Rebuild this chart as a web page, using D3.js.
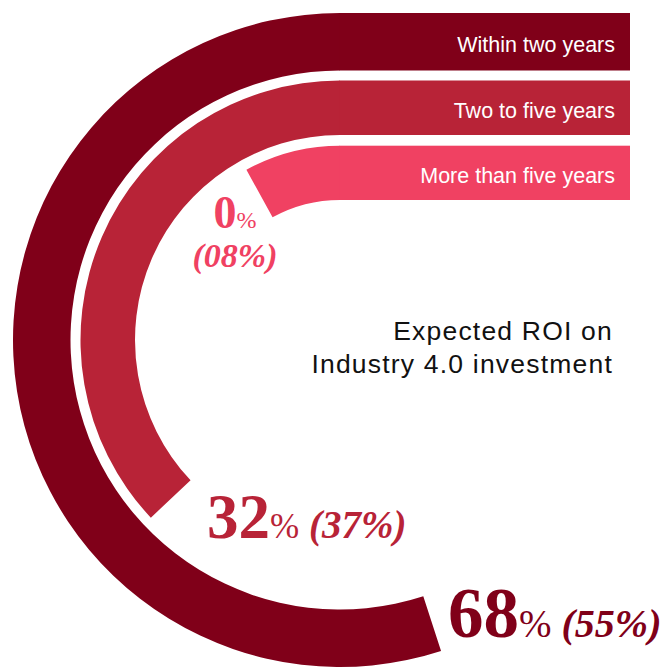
<!DOCTYPE html>
<html>
<head>
<meta charset="utf-8">
<script src="https://cdn.jsdelivr.net/npm/d3@7"></script>
<style>
  html, body { margin: 0; padding: 0; background: #ffffff; }
  svg { display: block; }
</style>
</head>
<body>
<svg id="chart" width="665" height="668"></svg>
<script>
// ---- data ----
const categories = ["Within two years", "Two to five years", "More than five years"];
const currentValues = [68, 32, 0];   // bold figures
const previousValues = [55, 37, 8];  // figures in parentheses (drive the arc length)
const colors = ["#800019", "#b82337", "#f04162"];
const titleLines = ["Expected ROI on", "Industry 4.0 investment"];

// ---- layout ----
const W = 665, H = 668;
const cx = 340, cy = 340;
const barEnd = 630;
const rings = [
  { inner: 269.5, outer: 327 },
  { inner: 205,   outer: 259.5 },
  { inner: 140,   outer: 194.3 }
];

const svg = d3.select("#chart");
const angle = d3.scaleLinear().domain([0, 100]).range([0, 2 * Math.PI]);
const xBar = d3.scaleLinear().domain([0, 1]).range([cx - 0.5, barEnd]);

const data = categories.map((c, i) => ({
  cat: c, cur: currentValues[i], prev: previousValues[i],
  color: colors[i], inner: rings[i].inner, outer: rings[i].outer
}));

const arc = d3.arc()
  .innerRadius(d => d.inner)
  .outerRadius(d => d.outer)
  .startAngle(d => -angle(d.prev))
  .endAngle(0);

const g = svg.append("g").attr("transform", `translate(${cx},${cy})`);
g.selectAll("path.arc").data(data).join("path")
  .attr("class", "arc")
  .attr("d", arc)
  .attr("fill", d => d.color);

// horizontal bars
svg.selectAll("rect.bar").data(data).join("rect")
  .attr("class", "bar")
  .attr("x", xBar(0))
  .attr("width", xBar(1) - xBar(0))
  .attr("y", d => cy - d.outer)
  .attr("height", d => d.outer - d.inner)
  .attr("fill", d => d.color);

// bar labels
svg.selectAll("text.cat").data(data).join("text")
  .attr("class", "cat")
  .attr("x", 615)
  .attr("y", d => cy - (d.outer + d.inner) / 2 + 10.5)
  .attr("text-anchor", "end")
  .attr("fill", "#ffffff")
  .style("font-family", "'Liberation Sans', Arial, sans-serif")
  .style("font-size", "21.5px")
  .text(d => d.cat);

// title
const title = svg.append("text")
  .attr("text-anchor", "end")
  .attr("fill", "#111111")
  .style("font-family", "'Liberation Sans', Arial, sans-serif")
  .style("font-size", "26.5px")
  .style("letter-spacing", "1.2px");
titleLines.forEach((t, i) => {
  title.append("tspan").attr("x", 613).attr("y", 340 + i * 33.3).text(t);
});

const serif = "'Liberation Serif', 'Times New Roman', serif";

// value labels
const valueLabelPos = [
  { x: 448, y: 637, big: 71, pct: 39, par: 40 },
  { x: 207, y: 538, big: 63, pct: 35, par: 39 }
];
[0, 1].forEach(i => {
  const d = data[i], p = valueLabelPos[i];
  const t = svg.append("text").attr("x", p.x).attr("y", p.y)
    .attr("fill", d.color).style("font-family", serif);
  t.append("tspan").style("font-size", p.big + "px").style("font-weight", "bold").text(d.cur);
  t.append("tspan").style("font-size", p.pct + "px").text("%");
  t.append("tspan").style("font-size", p.par + "px").style("font-weight", "bold")
    .style("font-style", "italic").text(" (" + d3.format("02d")(d.prev) + "%)");
});

// inner ring label (stacked)
{
  const d = data[2];
  const t = svg.append("text").attr("x", 235).attr("y", 227.5)
    .attr("text-anchor", "middle").attr("fill", d.color).style("font-family", serif);
  t.append("tspan").style("font-size", "46px").style("font-weight", "bold").text(d.cur);
  t.append("tspan").style("font-size", "24px").text("%");
  svg.append("text").attr("x", 235).attr("y", 266.5)
    .attr("text-anchor", "middle").attr("fill", d.color)
    .style("font-family", serif).style("font-size", "34px")
    .style("font-weight", "bold").style("font-style", "italic")
    .text("(" + d3.format("02d")(d.prev) + "%)");
}
</script>
</body>
</html>
